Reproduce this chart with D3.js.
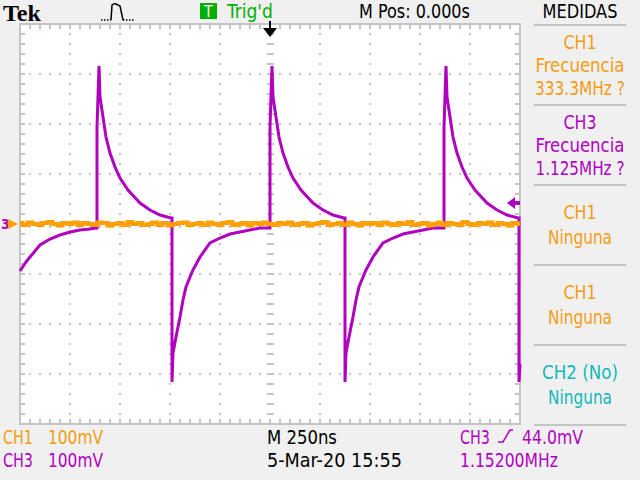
<!DOCTYPE html>
<meta charset="utf-8">
<style>
  body { margin: 0; background: #f0f0f0; }
  text { font-family: "Liberation Sans Narrow", "DejaVu Sans Condensed", sans-serif; }
</style>
<script src="https://d3js.org/d3.v7.min.js"></script>
<div id="scope"></div>
<script>
// CH3 trace: time in ns (0 = trigger), level in mV
var ch3Times = [-1250,-1220,-1200,-1150,-1100,-1050,-1000,-950,-900,-870,
  -865,-865,-855,-850,-835,-820,-800,-775,-750,-710,-650,-600,-550,-495,
  -490,-490,-485,-470,-450,-435,-420,-400,-385,-350,-300,-250,-200,-150,-50,-5,
  0,0,10,15,30,45,65,90,115,155,215,265,315,370,
  375,375,380,395,415,430,445,465,480,515,565,615,665,715,815,865,
  870,870,880,885,900,915,935,960,985,1025,1085,1135,1185,1240,
  1245,1245,1250];
var ch3Volts = [-94,-76,-66,-42,-30,-22,-16,-12,-10,-8,
  -8,194,316,254,214,174,142,114,92,68,42,28,18,12,
  12,-316,-258,-226,-186,-152,-126,-106,-92,-66,-38,-28,-20,-16,-8,-8,
  -8,194,316,254,214,174,142,114,92,68,42,28,18,12,
  12,-316,-258,-226,-186,-152,-126,-106,-92,-66,-38,-28,-20,-16,-8,-8,
  -8,194,316,254,214,174,142,114,92,68,42,28,18,12,
  12,-316,-280];

// CH1 is flat with a little noise, one value every 25 ns from -1250 ns
var ch1Volts = [2,-2,3,0,-2,2,4,0,-3,2,0,3,-2,2,0,-2,3,2,-3,0,2,-2,4,0,2,-2,
  0,3,-2,2,-3,0,2,3,-2,0,2,-2,3,0,-2,2,4,-2,0,2,-3,2,0,3,0,
  -2,2,0,3,-2,0,2,-3,0,2,4,-2,0,2,-2,3,0,-3,2,0,2,-2,3,0,-2,
  2,0,4,-2,0,2,-3,0,3,-2,2,0,-2,4,0,-2,2,0,3,-2,2,0,-3,2,0];

var measures = [
  {lines: ["CH1", "Frecuencia", "333.3MHz ?"], color: "#f39c12"},
  {lines: ["CH3", "Frecuencia", "1.125MHz ?"], color: "#b000c0"},
  {lines: ["CH1", "Ninguna"], color: "#f39c12"},
  {lines: ["CH1", "Ninguna"], color: "#f39c12"},
  {lines: ["CH2 (No)", "Ninguna"], color: "#10b8b8"}
];

var orange = "#ffa000", purple = "#b000c0";

var svg = d3.select("#scope").append("svg")
  .attr("width", 640).attr("height", 480)
  .style("display", "block");

svg.append("rect").attr("width", 640).attr("height", 480).attr("fill", "#f0f0f0");

// the scope font is narrow, so squeeze every label to the width seen on screen
var widths = {"Tek": 44, "Trig'd": 46, "M Pos: 0.000s": 111, "MEDIDAS": 75, "Frecuencia": 89,
  "CH1": 33, "CH3": 33, "333.3MHz ?": 90, "1.125MHz ?": 89, "Ninguna": 64, "CH2 (No)": 76,
  "100mV": 55, "M 250ns": 70, "5-Mar-20 15:55": 135, "44.0mV": 61, "1.15200MHz": 98};
function label(px, py, s, color, size, anchor, w) {
  var t = svg.append("text").attr("x", 0).attr("y", 0).attr("fill", color)
    .attr("text-anchor", anchor || "start").style("font-size", size + "px").text(s);
  return fit(t, px, py, w || widths[s]);
}
function fit(t, px, py, len) {
  var sx = len ? Math.min(1, len / t.node().getComputedTextLength()) : 1;
  t.attr("transform", "translate(" + px + "," + py + ") scale(" + sx + ",1)");
  return t;
}

var x = d3.scaleLinear().domain([-1250, 1250]).range([20, 520]);
var y = d3.scaleLinear().domain([-400, 400]).range([424, 24]);

// graticule
svg.append("rect").attr("x", 20).attr("y", 24).attr("width", 500).attr("height", 400)
  .attr("fill", "white");

var grid = svg.append("g").attr("fill", "#c4c4c4");
var divT = d3.range(-1250, 1251, 250), divV = d3.range(-400, 401, 100);
var fineT = d3.range(-1250, 1251, 50), fineV = d3.range(-400, 401, 20);
divT.slice(1, -1).forEach(function(t) {
  fineV.forEach(function(v) {
    grid.append("rect").attr("x", x(t) - 1).attr("y", y(v) - 1).attr("width", 2).attr("height", 2);
  });
});
divV.slice(1, -1).forEach(function(v) {
  fineT.forEach(function(t) {
    grid.append("rect").attr("x", x(t) - 1).attr("y", y(v) - 1).attr("width", 2).attr("height", 2);
  });
});
// centre ticks and border ticks
fineV.forEach(function(v) {
  grid.append("rect").attr("x", x(0) - 3).attr("y", y(v) - 1).attr("width", 7).attr("height", 2);
  grid.append("rect").attr("x", 20).attr("y", y(v) - 1).attr("width", 5).attr("height", 2);
  grid.append("rect").attr("x", 515).attr("y", y(v) - 1).attr("width", 5).attr("height", 2);
});
fineT.forEach(function(t) {
  grid.append("rect").attr("x", x(t) - 1).attr("y", y(0) - 3).attr("width", 2).attr("height", 7);
  grid.append("rect").attr("x", x(t) - 1).attr("y", 24).attr("width", 2).attr("height", 5);
  grid.append("rect").attr("x", x(t) - 1).attr("y", 419).attr("width", 2).attr("height", 5);
});
svg.append("rect").attr("x", 20).attr("y", 24).attr("width", 500).attr("height", 400)
  .attr("fill", "none").attr("stroke", "#c4c4c4").attr("stroke-width", 2);

// traces
var line = d3.line().x(function(d) { return x(d[0]); }).y(function(d) { return y(d[1]); });
svg.append("path")
  .attr("d", line(ch3Times.map(function(t, i) { return [t, ch3Volts[i]]; })))
  .attr("fill", "none").attr("stroke", purple).attr("stroke-width", 3);

svg.append("path")
  .attr("d", d3.line().curve(d3.curveStep)
    .x(function(d, i) { return x(-1250 + i * 25); })
    .y(function(d) { return y(d); })(ch1Volts))
  .attr("fill", "none").attr("stroke", orange).attr("stroke-width", 4);

// markers
label(1, 229, "3", purple, 14).style("font-weight", "bold");
svg.append("path").attr("d", "M8,219 L18,224 L8,229 Z").attr("fill", orange);
svg.append("path").attr("d", "M507,203 L515,197 L515,209 Z M514,201 h6 v4 h-6 Z").attr("fill", purple);
svg.append("path").attr("d", "M269,21 h2 v7 h6 L270,37 L263,28 h6 Z").attr("fill", "black");

// header
var tek = svg.append("text").attr("fill", "black")
  .style("font-family", "'Liberation Serif', serif").style("font-weight", "bold")
  .style("font-size", "24px").text("Tek");
fit(tek, 3, 21, widths["Tek"]);
svg.append("path").attr("d", "M101,20 h10 M123,20 h11")
  .attr("stroke", "black").attr("stroke-width", 1.5).attr("stroke-dasharray", "1.5,1.5");
svg.append("path").attr("d", "M111,20 L112,5 Q114,3 116,4 L120,6 L123,20")
  .attr("fill", "none").attr("stroke", "black").attr("stroke-width", 1.5);
svg.append("rect").attr("x", 200).attr("y", 3).attr("width", 17).attr("height", 16).attr("fill", "#00b000");
label(208.5, 17, "T", "white", 16, "middle");
label(227, 18, "Trig'd", "#00b000", 20);
label(359, 18, "M Pos: 0.000s", "black", 20);
label(580, 18, "MEDIDAS", "black", 20, "middle");

// measurement panel
d3.range(6).forEach(function(i) {
  svg.append("rect").attr("x", 534).attr("y", 24 + i * 80).attr("width", 92).attr("height", 2)
    .attr("fill", "#c4c4c4");
});
measures.forEach(function(m, i) {
  var top = 25 + i * 80;
  var first = m.lines.length === 3 ? top + 24 : top + 34;
  var step = m.lines.length === 3 ? 23 : 25;
  m.lines.forEach(function(s, j) {
    label(580, first + j * step, s, m.color, 20, "middle");
  });
});

// footer
label(3, 444, "CH1", "#f39c12", 20, "start", 30);
label(48, 444, "100mV", "#f39c12", 20);
label(3, 467, "CH3", purple, 20, "start", 30);
label(48, 467, "100mV", purple, 20);
label(267, 444, "M 250ns", "black", 20);
label(267, 467, "5-Mar-20 15:55", "black", 20);
label(460, 444, "CH3", purple, 20, "start", 30);
label(522, 444, "44.0mV", purple, 20);
label(460, 467, "1.15200MHz", purple, 20);
svg.append("path").attr("d", "M498,442 h5 L510,430 h3")
  .attr("fill", "none").attr("stroke", purple).attr("stroke-width", 1.5);
</script>
